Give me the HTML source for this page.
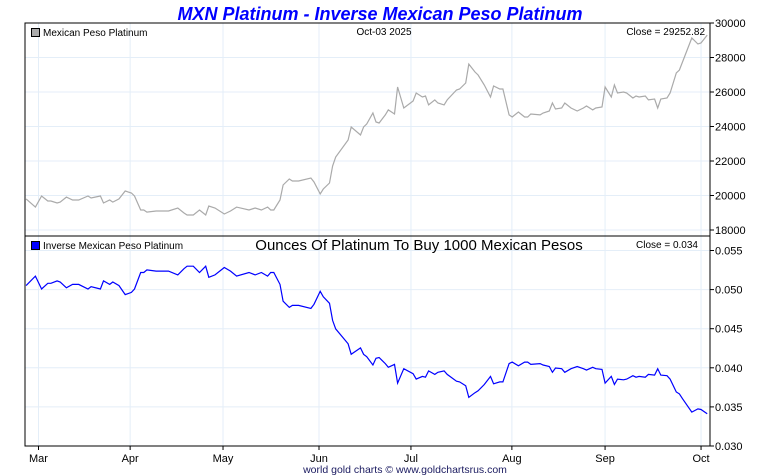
<!DOCTYPE html>
<html><head><meta charset="utf-8"><style>
html,body{margin:0;padding:0;background:#fff;width:760px;height:475px;overflow:hidden;font-family:"Liberation Sans",sans-serif;}
</style></head><body>
<svg id="chart" width="760" height="475" xmlns="http://www.w3.org/2000/svg" font-family="Liberation Sans, sans-serif">
<text x="380" y="20" text-anchor="middle" font-size="18" font-weight="bold" font-style="italic" fill="#0000ff">MXN Platinum - Inverse Mexican Peso Platinum</text>
<g id="grid"></g>
<g id="series"></g>
<rect x="25" y="23" width="685" height="213" fill="none" stroke="#000" stroke-width="1"/>
<rect x="25" y="236" width="685" height="210" fill="none" stroke="#000" stroke-width="1"/>
<rect x="31.5" y="28.5" width="8" height="8" fill="#aaa" stroke="#000"/>
<text x="43" y="36" font-size="10">Mexican Peso Platinum</text>
<text x="384" y="35" font-size="10" text-anchor="middle">Oct-03  2025</text>
<text x="705" y="35" font-size="10" text-anchor="end">Close = 29252.82</text>
<rect x="31.5" y="241.5" width="8" height="8" fill="#0000ff" stroke="#000"/>
<text x="43" y="249" font-size="10">Inverse Mexican Peso Platinum</text>
<text x="419" y="250" font-size="15" text-anchor="middle">Ounces Of Platinum To Buy 1000 Mexican Pesos</text>
<text x="698" y="248" font-size="10" text-anchor="end">Close = 0.034</text>
<text x="405" y="473" font-size="10.5" text-anchor="middle" fill="#1a1a60">world gold charts © www.goldchartsrus.com</text>
</svg>
<script>
const dayOffsets=[-4,-1,1,3,4,6,7,9,11,13,16,17,20,21,23,24,26,28,30,31,33,34,35,38,42,45,47,48,50,52,54,55,57,60,62,64,68,70,72,74,75,76,78,79,81,82,84,88,89,91,92,94,95,96,100,101,104,105,106,108,109,110,112,113,115,116,118,121,122,124,125,126,128,129,131,132,135,136,138,139,141,142,144,146,147,149,150,152,153,155,157,158,159,162,163,165,166,167,169,170,172,174,176,177,179,180,182,183,185,186,187,189,190,192,193,194,196,197,199,200,201,203,204,206,207,208,211,213,214,216];
const topValues=[19800,19330,19970,19680,19680,19565,19620,19910,19740,19740,19970,19855,19970,19565,19740,19620,19800,20260,20145,19970,19160,19160,19040,19100,19100,19275,18985,18870,18870,19160,18870,19390,19275,18930,19100,19330,19160,19275,19160,19330,19160,19160,19740,20610,20955,20840,20840,21015,20780,20090,20375,20725,21710,22230,23220,23970,23510,23970,24145,24780,24260,24200,24670,24960,24725,26290,25070,25480,25940,25710,25770,25250,25540,25360,25250,25540,26115,26175,26520,27620,27160,26985,26405,25710,26350,26175,26175,24670,24550,24840,24550,24550,24725,24670,24780,24900,25360,25015,25070,25360,25070,24900,25070,25190,24960,25070,25130,26290,25710,26405,25940,26000,25940,25650,25770,25710,25770,25540,25595,25070,25595,25650,25940,27100,27275,27740,29130,28780,28840,29300];
const inverseValues=[0.05051,0.05173,0.05008,0.05081,0.05081,0.05111,0.05097,0.05023,0.05066,0.05066,0.05008,0.05037,0.05008,0.05111,0.05066,0.05097,0.05051,0.04936,0.04964,0.05008,0.05219,0.05219,0.05252,0.05236,0.05236,0.05188,0.05267,0.05299,0.05299,0.05219,0.05299,0.05157,0.05188,0.05283,0.05236,0.05173,0.05219,0.05188,0.05219,0.05173,0.05219,0.05219,0.05066,0.04852,0.04772,0.04798,0.04798,0.04759,0.04812,0.04978,0.04908,0.04825,0.04606,0.04498,0.04307,0.04172,0.04254,0.04172,0.04142,0.04036,0.04122,0.04132,0.04054,0.04006,0.04044,0.03804,0.03989,0.03925,0.03855,0.03890,0.03880,0.03960,0.03915,0.03943,0.03960,0.03915,0.03829,0.03820,0.03771,0.03621,0.03682,0.03706,0.03787,0.03890,0.03795,0.03820,0.03820,0.04054,0.04073,0.04026,0.04073,0.04073,0.04044,0.04054,0.04036,0.04016,0.03943,0.03998,0.03989,0.03943,0.03989,0.04016,0.03989,0.03970,0.04006,0.03989,0.03979,0.03804,0.03890,0.03787,0.03855,0.03846,0.03855,0.03899,0.03880,0.03890,0.03880,0.03915,0.03907,0.03989,0.03907,0.03899,0.03855,0.03690,0.03666,0.03605,0.03433,0.03475,0.03467,0.03413];
const topTicks=[18000,20000,22000,24000,26000,28000,30000];
const bottomTicks=[0.030,0.035,0.040,0.045,0.050,0.055];
const monthLabels=["Mar","Apr","May","Jun","Jul","Aug","Sep","Oct"];
const monthDays=[0,29.6,59.6,90.6,120.3,152.9,183,214];

const NS="http://www.w3.org/2000/svg";
const xS=d=>38.5+d*3.096;
const yTop=v=>23+(30000-v)/2000*34.5;
const yBot=v=>446-(v-0.030)/0.005*39.1;
const grid=document.getElementById('grid'), ser=document.getElementById('series');
function mk(tag,attrs,parent){const e=document.createElementNS(NS,tag);for(const k in attrs)e.setAttribute(k,attrs[k]);parent.appendChild(e);return e;}

topTicks.forEach(t=>{const y=yTop(t);
 const l=mk('line',{x1:25,x2:710,y1:y,y2:y,stroke:'#e4eef8'},grid);
 
 
 mk('line',{x1:710,x2:714,y1:y,y2:y,stroke:'#000'},grid);
 const tx=mk('text',{x:715,y:y+4,'font-size':11},grid);tx.textContent=String(t);
 
 
});
bottomTicks.forEach(t=>{const y=yBot(t);
 const l=mk('line',{x1:25,x2:710,y1:y,y2:y,stroke:'#e4eef8'},grid);
 
 
 mk('line',{x1:710,x2:714,y1:y,y2:y,stroke:'#000'},grid);
 const tx=mk('text',{x:715,y:y+4,'font-size':11},grid);tx.textContent=t.toFixed(3);
 
 
});
monthLabels.forEach((m,k)=>{const x=xS(monthDays[k]);
 const l=mk('line',{x1:x,x2:x,y1:23,y2:446,stroke:'#e4eef8'},grid);
 
 
 mk('line',{x1:x,x2:x,y1:446,y2:450,stroke:'#000'},grid);
 const tx=mk('text',{x:x,y:462,'font-size':11,'text-anchor':'middle'},grid);tx.textContent=m;
 
 
});
const p1=mk('polyline',{points:topValues.map((v,i)=>xS(dayOffsets[i]).toFixed(1)+','+yTop(v).toFixed(1)).join(' '),fill:'none',stroke:'#aaaaaa','stroke-width':1.2},ser);


const p2=mk('polyline',{points:inverseValues.map((v,i)=>xS(dayOffsets[i]).toFixed(1)+','+yBot(v).toFixed(1)).join(' '),fill:'none',stroke:'#0000ff','stroke-width':1.2},ser);


</script>
</body></html>
